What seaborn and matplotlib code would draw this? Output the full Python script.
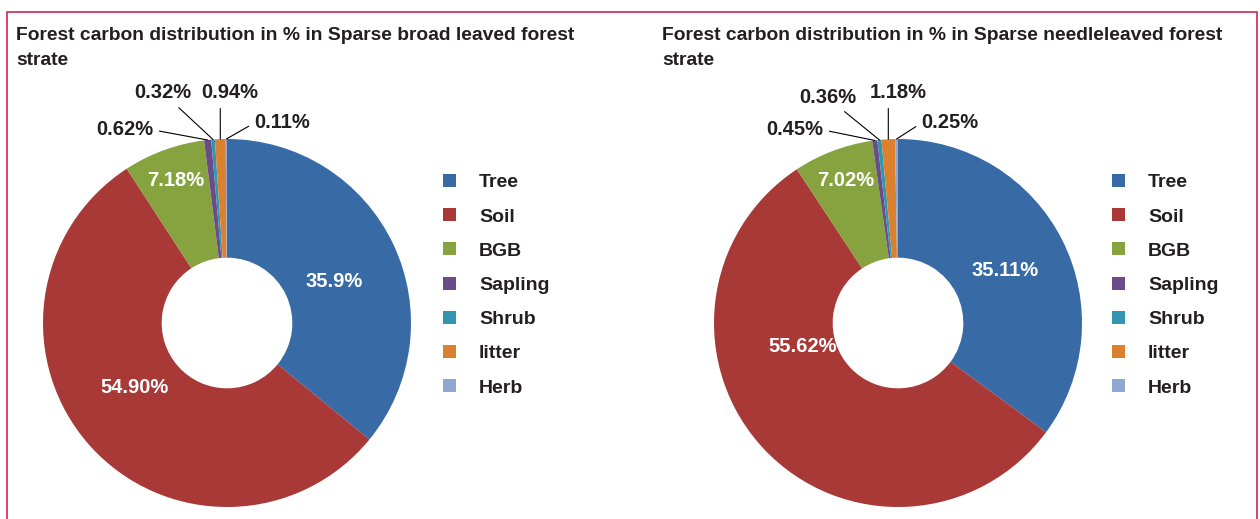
import matplotlib
matplotlib.use("Agg")
import matplotlib.pyplot as plt
from matplotlib.patches import Rectangle
import seaborn as sns
import numpy as np

sns.set_style("white")
plt.rcParams['font.family'] = ['Liberation Sans', 'DejaVu Sans']

# data
categories = ["Tree", "Soil", "BGB", "Sapling", "Shrub", "litter", "Herb"]
broad_values = [35.9, 54.90, 7.18, 0.62, 0.32, 0.94, 0.11]
broad_labels = ["35.9%", "54.90%", "7.18%", "0.62%", "0.32%", "0.94%", "0.11%"]
needle_values = [35.11, 55.62, 7.02, 0.45, 0.36, 1.18, 0.25]
needle_labels = ["35.11%", "55.62%", "7.02%", "0.45%", "0.36%", "1.18%", "0.25%"]
titles = ["Forest carbon distribution in % in Sparse broad leaved forest\nstrate",
          "Forest carbon distribution in % in Sparse needleleaved forest\nstrate"]

colors = ["#386BA6", "#A83937", "#87A33F", "#6A4C8B", "#3297AE", "#DB812E", "#8FA8D1"]
txt_color = "#231F20"

W, H = 1260, 519
fig = plt.figure(figsize=(W / 100, H / 100), dpi=100)

# pink frame
fig.patches.append(Rectangle((7 / W, -0.1), (1257 - 7) / W, (H - 12) / H + 0.1,
                             transform=fig.transFigure, fill=False,
                             edgecolor="#D2375F", lw=1.3))

R = 184  # pie radius in px
lim = 1.15
# where the leader line leaves each small label
relpos = [None, None, None, (1.0, 0.5), (0.68, 0.0), (0.33, 0.0), (0.0, 0.5)]


def donut(cx, cy, values, labels, title, titlex, legx, label_pos):
    size = 2 * lim * R
    ax = fig.add_axes([(cx - lim * R) / W, (H - cy - lim * R) / H, size / W, size / H])
    wedges, _ = ax.pie(values, colors=colors, startangle=90, counterclock=False,
                       radius=1, wedgeprops=dict(width=0.645, linewidth=0))
    ax.set_xlim(-lim, lim)
    ax.set_ylim(-lim, lim)
    ax.set_aspect("equal")
    ax.axis("off")

    # mid angles of wedges
    tot = sum(values)
    cum = np.cumsum([0] + values[:-1])
    mids = np.deg2rad(90 - 360 * (cum + np.array(values) / 2) / tot)

    for i, (lab, pos) in enumerate(zip(labels, label_pos)):
        if i < 3:
            ax.text(pos[0], pos[1], lab, ha="center", va="center", color="white",
                    fontsize=14.5, fontweight="bold")
        else:
            ax.annotate(lab, xy=(np.cos(mids[i]), np.sin(mids[i])), xytext=pos,
                        ha="center", va="center", fontsize=14.5, fontweight="bold",
                        color=txt_color, annotation_clip=False,
                        arrowprops=dict(arrowstyle="-", color="black", lw=0.8,
                                        relpos=relpos[i], shrinkA=2, shrinkB=0))

    fig.text(titlex / W, 1 - 27 / H, title, ha="left", va="top",
             fontsize=13.9, fontweight="bold", color=txt_color, linespacing=1.62)

    leg = fig.legend(wedges, categories, loc="upper left",
                     bbox_to_anchor=(legx / W, 1 - 174 / H), frameon=False,
                     fontsize=14, handlelength=0.65, handleheight=0.65,
                     handletextpad=1.2, labelspacing=0.87, borderpad=0, borderaxespad=0)
    for t in leg.get_texts():
        t.set_fontweight("bold")
        t.set_color(txt_color)


donut(227, 323, broad_values, broad_labels, titles[0], 16, 443,
      [(0.58, 0.228), (-0.50, -0.35), (-0.277, 0.772),
       (-0.555, 1.049), (-0.348, 1.25), (0.016, 1.25), (0.30, 1.087)])
donut(898, 323, needle_values, needle_labels, titles[1], 662, 1112,
      [(0.58, 0.283), (-0.52, -0.125), (-0.283, 0.772),
       (-0.56, 1.049), (-0.38, 1.228), (0.0, 1.25), (0.283, 1.087)])

fig.savefig("out.png", dpi=100)
